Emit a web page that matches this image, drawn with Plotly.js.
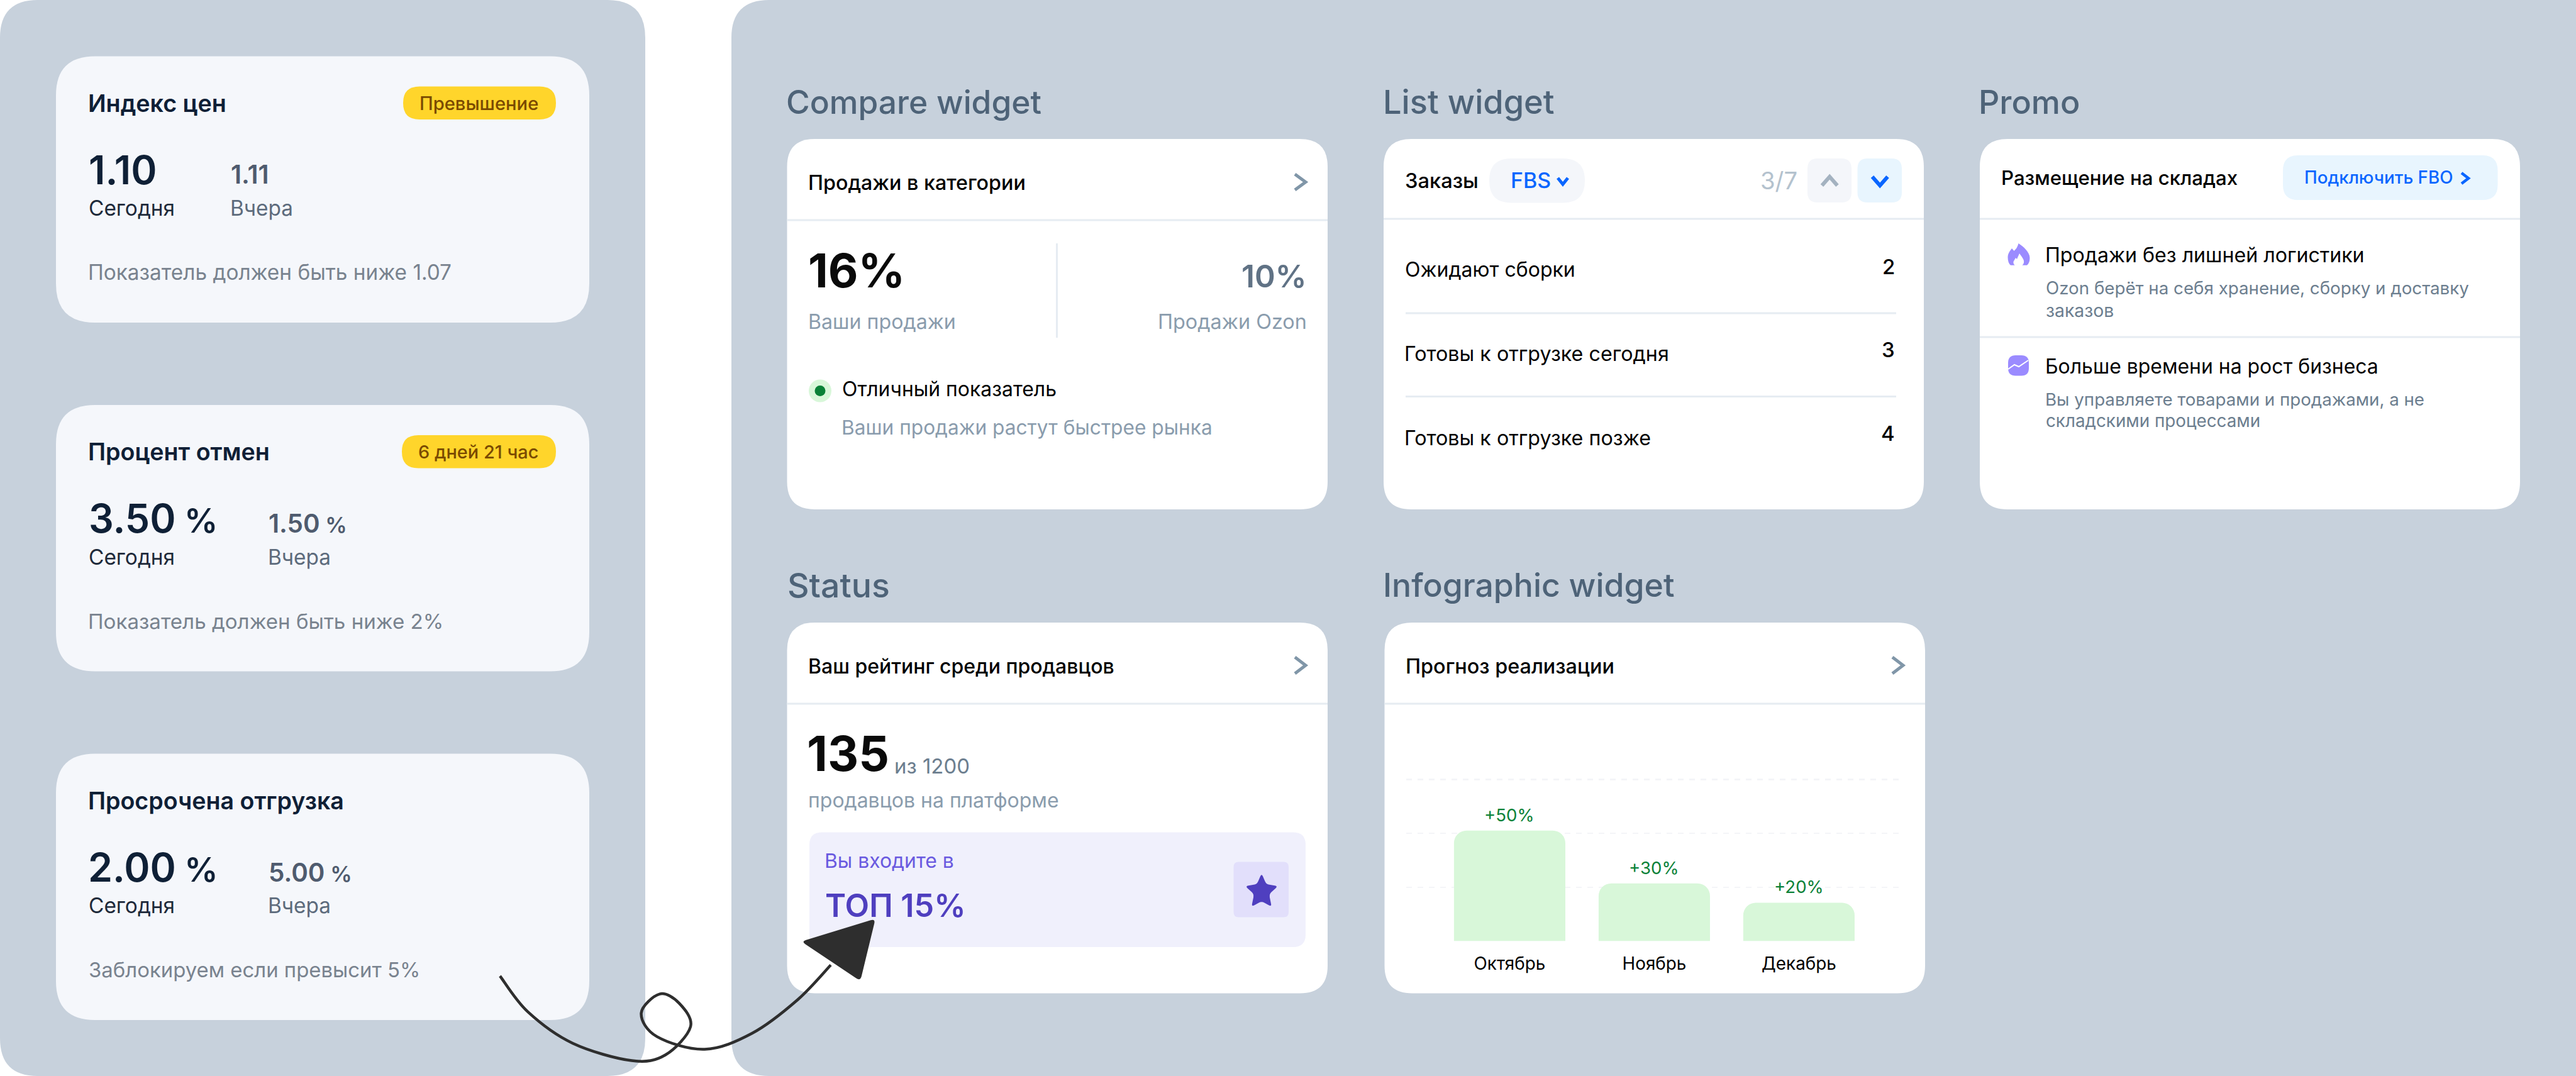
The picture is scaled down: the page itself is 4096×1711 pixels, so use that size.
<!DOCTYPE html>
<html><head><meta charset="utf-8">
<script src="https://cdn.plot.ly/plotly-3.0.1.min.js"></script>
<style>html,body{margin:0;padding:0;background:#fff}#c{width:4096px;height:1711px}</style>
</head><body><div id="c"></div>
<script>
// ---- values ----
const months = ['Октябрь', 'Ноябрь', 'Декабрь'];
const forecastHeights = [51.3, 26.8, 17.8];
const forecastLabels = ['+50%', '+30%', '+20%'];
const metricTitles = ['Индекс цен', 'Процент отмен', 'Просрочена отгрузка'];
const metricToday = ['1.10', '3.50 %', '2.00 %'];
const metricYesterday = ['1.11', '1.50 %', '5.00 %'];
const metricNotes = ['Показатель должен быть ниже 1.07', 'Показатель должен быть ниже 2%', 'Заблокируем если превысит 5%'];
const metricBadges = ['Превышение', '6 дней 21 час', ''];
const orderRows = ['Ожидают сборки', 'Готовы к отгрузке сегодня', 'Готовы к отгрузке позже'];
const orderCounts = ['2', '3', '4'];
const sectionTitles = ['Compare widget', 'List widget', 'Promo', 'Status', 'Infographic widget'];

// ---- colours ----
const PANEL='#C7D1DC', CARD='#F5F7FB', WHITE='#FFFFFF', LINE='#E6ECF2', INK='#0F2036', GREY='#8A9CAD', SLATE='#6C7E8F',
      BLUE='#0A66FF', PALEBLUE='#E8F5FE', PILL='#F4F6FA', GREEN='#0A8137', VIOLET='#6A5AE0', DEEP='#4F3FBF', LILAC='#9B8BFF', FONT='Inter, sans-serif';

const W=4096, H=1711, X=p=>p/W, Y=p=>1-p/H;
const shapes=[], annotations=[];
const P=(x,y)=>X(x)+','+Y(y);
const ctx=document.createElement('canvas').getContext('2d');
function metric(text,weight){ctx.font=(weight||400)+' 100px Inter';const m=ctx.measureText(text);return {l:m.actualBoundingBoxLeft,r:m.actualBoundingBoxRight,w:m.actualBoundingBoxLeft+m.actualBoundingBoxRight};}
function fit(text,width,weight){return width/metric(text,weight).w*100;}
function rr(x0,y0,x1,y1,r,fill,corners){
  const c=corners||[r,r,r,r];
  const d='M'+P(x0+c[0],y0)+' L'+P(x1-c[1],y0)+' Q'+P(x1,y0)+' '+P(x1,y0+c[1])+' L'+P(x1,y1-c[2])+' Q'+P(x1,y1)+' '+P(x1-c[2],y1)+
          ' L'+P(x0+c[3],y1)+' Q'+P(x0,y1)+' '+P(x0,y1-c[3])+' L'+P(x0,y0+c[0])+' Q'+P(x0,y0)+' '+P(x0+c[0],y0)+' Z';
  shapes.push({type:'path',path:d,xref:'paper',yref:'paper',fillcolor:fill,line:{width:0},layer:'below'});
}
function roundPoly(pts,r,fill,layer){
  const n=pts.length;let d='';
  pts.forEach((p,i)=>{const a=pts[(i+n-1)%n],b=pts[(i+1)%n];
    const u=(q)=>{const dx=q[0]-p[0],dy=q[1]-p[1],l=Math.hypot(dx,dy),k=Math.min(r,l/2)/l;return [p[0]+dx*k,p[1]+dy*k];};
    const s=u(a),e=u(b);d+=(i?' L':'M')+P(s[0],s[1])+' Q'+P(p[0],p[1])+' '+P(e[0],e[1]);});
  shapes.push({type:'path',xref:'paper',yref:'paper',layer:layer||'below',fillcolor:fill,line:{width:0},path:d+' Z'});
}
function hline(x0,x1,y,w,color){shapes.push({type:'line',xref:'paper',yref:'paper',x0:X(x0),x1:X(x1),y0:Y(y),y1:Y(y),line:{color:color||LINE,width:w||3},layer:'below'});}
function vline(x,y0,y1){shapes.push({type:'line',xref:'paper',yref:'paper',x0:X(x),x1:X(x),y0:Y(y0),y1:Y(y1),line:{color:LINE,width:3},layer:'below'});}
function poly(pts,color,w){shapes.push({type:'path',xref:'paper',yref:'paper',path:'M'+pts.map(q=>P(q[0],q[1])).join(' L'),line:{color:color,width:w},layer:'below'});}
function circ(cx,cy,r,fill){shapes.push({type:'circle',xref:'paper',yref:'paper',x0:X(cx-r),x1:X(cx+r),y0:Y(cy+r),y1:Y(cy-r),fillcolor:fill,line:{width:0},layer:'below'});}
function raw(x,y,html,size,color,weight,anchor){annotations.push({xref:'paper',yref:'paper',x:X(x),y:Y(y),text:html,showarrow:false,xanchor:anchor||'left',yanchor:'middle',borderpad:0,borderwidth:0,font:{family:FONT,size:size,color:color,weight:weight||400}});}
// T: text whose ink starts at inkLeft and spans inkWidth
function T(inkLeft,y,text,inkWidth,color,weight){const m=metric(text,weight),size=inkWidth/m.w*100;raw(inkLeft+m.l*size/100,y,text,size,color,weight);}
function chevR(x0,x1,y0,y1,c,w){poly([[x0,y0],[x1,(y0+y1)/2],[x0,y1]],c,w);}
function chevV(x0,x1,y0,y1,c,w){poly([[x0,y0],[(x0+x1)/2,y1],[x1,y0]],c,w);}
function catmull(pts){let d='M'+P(pts[0][0],pts[0][1]);for(let i=0;i<pts.length-1;i++){const a=pts[Math.max(i-1,0)],b=pts[i],c=pts[i+1],e=pts[Math.min(i+2,pts.length-1)];
  d+=' C'+P(b[0]+(c[0]-a[0])/6,b[1]+(c[1]-a[1])/6)+' '+P(c[0]-(e[0]-b[0])/6,c[1]-(e[1]-b[1])/6)+' '+P(c[0],c[1]);}return d;}
function valueHtml(v,size,ratio){return v.replace(' %','<span style="font-size:'+(size*ratio).toFixed(1)+'px"> %</span>');}

// ---- panels ----
rr(0,0,1026,1711,60,PANEL);
rr(1163,0,4096,1711,60,PANEL,[60,0,0,60]);

// ---- left metric cards ----
const titleW=[215,284,402], noteW=[574,559,522], badgeW=[186,189,0], badgeL=[669.5,666.6,0], badgeX=[641,639,0];
const todayS=fit('1.10',103,600), yestS=fit('1.11',56,600);
metricTitles.forEach((title,i)=>{
  const o=i*554.5, yx=i===0?369:429;
  rr(89,89.5+o,937,513+o,62,CARD);
  T(143,164+o,title,titleW[i],INK,600);
  raw(144+metric(metricToday[i].split(' ')[0],600).l*todayS/100,270+o,valueHtml(metricToday[i],todayS,0.85),todayS,INK,600);
  T(143,331+o,'Сегодня',133,'#1E2A3A',400);
  raw(yx+metric(metricYesterday[i].split(' ')[0],600).l*yestS/100,278+o,valueHtml(metricYesterday[i],yestS,0.85),yestS,'#4F5B6E',600);
  T(yx,331+o,'Вчера',95,'#5D6B7C',400);
  T(143,433+o,metricNotes[i],noteW[i],'#79838F',400);
  if(metricBadges[i]){
    rr(badgeX[i],137.5+o,884,190+o,26,'#FFD52B');
    T(badgeL[i],164+o,metricBadges[i],badgeW[i],'#7A4A00',500);
  }
});

// ---- section titles ----
[[1252.7,162,403],[2202.7,162,268],[3150,162,155],[1254.5,930,158],[2202.7,930,459]].forEach((q,i)=>T(q[0],q[1],sectionTitles[i],q[2],'#4E6378',500));

// ---- compare widget ----
rr(1251.5,221,2111,810,44,WHITE);
T(1288,290,'Продажи в категории',341,'#000',500);
chevR(2059,2076,277,302,'#8096A8',5);
hline(1251.5,2111,350);
T(1288,430,'16%',145,'#0A0A0A',700);
T(1975.8,439,'10%',97,'#607285',600);
vline(1680.5,387,537);
T(1288,511,'Ваши продажи',230,GREY);
T(1843.6,511,'Продажи Ozon',232,GREY);
circ(1304,621.5,18,'#D8F7D9'); circ(1304,621.5,8.5,GREEN);
T(1340.6,618,'Отличный показатель',338,'#000');
T(1340.6,679,'Ваши продажи растут быстрее рынка',585,GREY);

// ---- list widget ----
rr(2200,221,3059,810,44,WHITE);
T(2235.5,287,'Заказы',113,'#000',500);
rr(2368,252,2520,322.5,35,PILL);
T(2404.5,287,'FBS',60,BLUE,500);
chevV(2477,2493,283,293,BLUE,5);
T(2801.5,287,'3/7',55,'#B4C2CE');
rr(2874,252,2944,322,16,PILL);
chevV(2897,2921.5,295,281,'#A4B2C0',6);
rr(2953.5,252,3024,322,16,PALEBLUE);
chevV(2977,3001.5,281,295,BLUE,6);
hline(2200,3059,348);
const rowW=[267,416,388];
[429,562,696.5].forEach((y,i)=>T(2235.5,y,orderRows[i],rowW[i],'#000'));
[423.5,555.5,688.5].forEach((y,i)=>raw(3013,y,orderCounts[i],33,'#000',500,'right'));
hline(2235,3015,498); hline(2235,3015,630.5);

// ---- promo ----
rr(3148,221,4007,810,44,WHITE);
T(3184,283,'Размещение на складах',373,'#000',500);
rr(3630,247,3971.5,318,24,PALEBLUE);
T(3666,282,'Подключить FBO',233,BLUE,500);
chevR(3914,3925,275,292,BLUE,4.5);
hline(3148,4007,348); hline(3148,4007,536);
T(3254.5,405,'Продажи без лишней логистики',503,'#000');
T(3254.5,458,'Ozon берёт на себя хранение, сборку и доставку',671,SLATE);
T(3254.5,493,'заказов',106,SLATE);
T(3254.5,582,'Больше времени на рост бизнеса',525,'#000');
T(3254.5,634.5,'Вы управляете товарами и продажами, а не',600,SLATE);
T(3254.5,669,'складскими процессами',338,SLATE);
// flame icon
shapes.push({type:'path',xref:'paper',yref:'paper',layer:'below',fillcolor:LILAC,line:{width:0},
  path:'M'+P(3209.5,387)+' C'+P(3217,392)+' '+P(3227,400)+' '+P(3227.5,410)+' Q'+P(3227.5,418)+' '+P(3223,421.7)+' L'+P(3197,421.7)+' Q'+P(3192.5,418)+' '+P(3192.5,409)+' C'+P(3192.5,403)+' '+P(3196,399)+' '+P(3199,395)+' L'+P(3202.5,399)+' Q'+P(3208,394)+' '+P(3209.5,387)+' Z'});
shapes.push({type:'path',xref:'paper',yref:'paper',layer:'below',fillcolor:WHITE,line:{width:0},
  path:'M'+P(3211,403)+' C'+P(3214,408)+' '+P(3219,412)+' '+P(3218,418)+' Q'+P(3217,421)+' '+P(3215,422)+' L'+P(3204,422)+' Q'+P(3201,420)+' '+P(3201.5,416)+' L'+P(3205,410)+' L'+P(3207,412)+' Z'});
// growth icon
rr(3193,565,3226,597.5,12,LILAC);
poly([[3193,587],[3203,580],[3210,583],[3225,573]],'#FFFFFF',2);

// ---- status ----
rr(1251.5,990,2111,1579.5,44,WHITE);
T(1287.5,1059,'Ваш рейтинг среди продавцов',483,'#000',500);
chevR(2059,2076,1045,1071,'#8096A8',5);
hline(1251.5,2111,1119);
T(1286,1198,'135',125,'#0A0A0A',700);
T(1424,1217.5,'из 1200',116,SLATE);
T(1287.5,1272,'продавцов на платформе',395,GREY);
rr(1287,1323.5,2076,1506,20,'#F0F0FC');
T(1314,1368.5,'Вы входите в',202,VIOLET);
T(1314,1439,'ТОП 15%',217,DEEP,600);
rr(1961.5,1370.5,2049,1458.5,8,'#E2DFFB');
roundPoly([[2006,1389],[2013.5,1406],[2032,1409],[2018,1422],[2022,1442],[2006,1433],[1990,1442],[1994,1422],[1980,1409],[1998.5,1406]],5,DEEP);

// ---- infographic ----
rr(2201.5,990,3061,1579.5,44,WHITE);
T(2238,1059,'Прогноз реализации',327,'#000',500);
chevR(3009,3026,1045,1071,'#8096A8',5);
hline(2201.5,3061,1119);
months.forEach((m,i)=>annotations.push({xref:'x',yref:'y',x:m,y:forecastHeights[i],yshift:25,text:forecastLabels[i],showarrow:false,xanchor:'center',yanchor:'middle',borderpad:0,borderwidth:0,
  font:{family:FONT,size:fit('+50%',74),color:GREEN}}));

// ---- hand-drawn arrow ----
const curve=[[795,1552],[839,1608.7],[910.7,1659],[1004.5,1686.6],[1058,1677.5],[1098,1632.5],[1080,1595.4],[1049,1580.6],[1019.6,1611],[1044.6,1648.4],[1120.5,1668.5],[1196,1643],[1268,1590],[1321,1534.5]];
shapes.push({type:'path',xref:'paper',yref:'paper',layer:'above',path:catmull(curve),line:{color:'#2E2E2E',width:4.5}});
roundPoly([[1392,1461],[1274,1497],[1368,1560]],8,'#2E2E2E','above');

const trace={type:'bar',x:months,y:forecastHeights,marker:{color:'#D8F7D9',line:{width:0}},hoverinfo:'skip'};
const layout={width:W,height:H,margin:{l:0,r:0,t:0,b:0},paper_bgcolor:'#FFFFFF',plot_bgcolor:'rgba(0,0,0,0)',showlegend:false,
  bargap:0.23,barcornerradius:20,shapes:shapes,annotations:annotations,
  xaxis:{domain:[X(2236),X(3026)],range:[-0.715,2.72],type:'category',showgrid:false,zeroline:false,showline:false,ticks:'',
    tickfont:{family:FONT,size:fit('Октябрь',111),color:'#000'},ticklabelstandoff:17},
  yaxis:{domain:[Y(1496.5),Y(1153.7)],range:[0,100],dtick:25,showticklabels:false,showgrid:true,griddash:'dash',gridcolor:'#F4F5F8',gridwidth:2.5,zeroline:false,showline:false,ticks:''}};
Plotly.newPlot('c',[trace],layout,{displayModeBar:false,staticPlot:true});
</script></body></html>
